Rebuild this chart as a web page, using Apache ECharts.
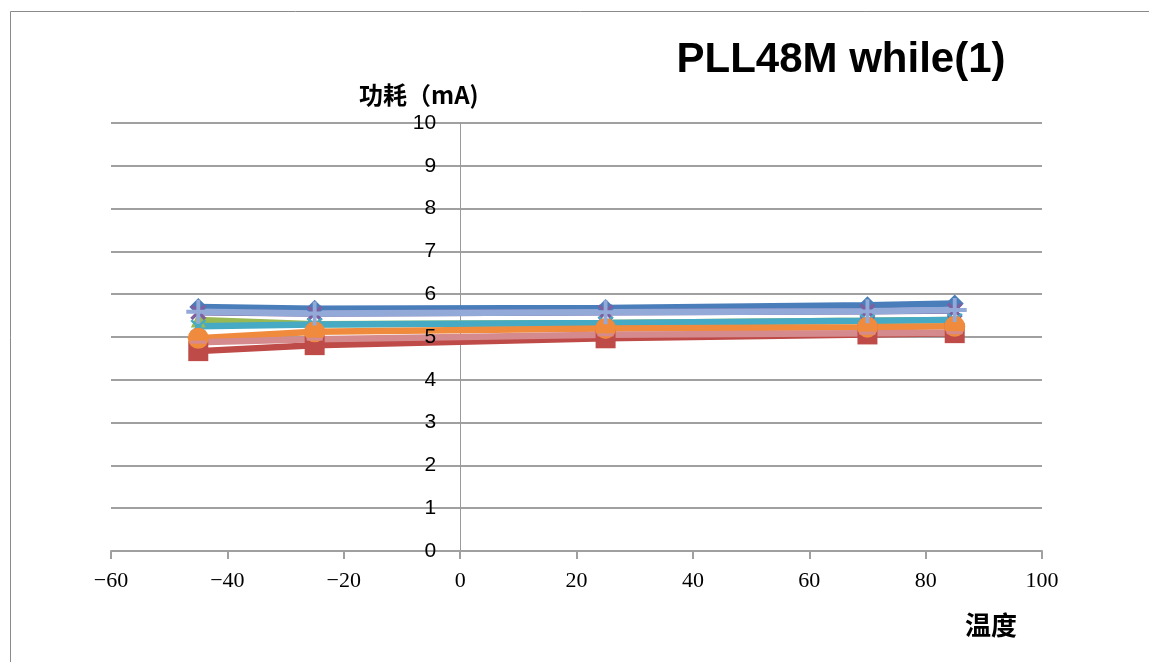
<!DOCTYPE html>
<html>
<head>
<meta charset="utf-8">
<script src="https://cdn.jsdelivr.net/npm/echarts@6/dist/echarts.min.js"></script>
<style>
html,body{margin:0;padding:0;background:#fff;}
#chart{width:1149px;height:662px;}
</style>
</head>
<body>
<div id="chart"></div>
<script>
// ---- data ----
const temps = [-45, -25, 25, 70, 85];
const seriesNames = ['S1', 'S2', 'S3', 'S4', 'S5', 'S6', 'S7', 'S8'];
const s1 = [5.70, 5.66, 5.68, 5.74, 5.78];
const s2 = [4.67, 4.81, 4.97, 5.06, 5.09];
const s3 = [5.40, 5.30, 5.33, 5.38, 5.40];
const s4 = [5.58, 5.55, 5.58, 5.60, 5.62];
const s5 = [5.25, 5.29, 5.33, 5.38, 5.40];
const s6 = [4.97, 5.12, 5.20, 5.23, 5.25];
const s7 = [5.59, 5.55, 5.58, 5.60, 5.63];
const s8 = [4.88, 4.95, 5.05, 5.09, 5.10];
const xTicks = [-60, -40, -20, 0, 20, 40, 60, 80, 100];
const yTicks = [0, 1, 2, 3, 4, 5, 6, 7, 8, 9, 10];
const titleText = 'PLL48M while(1)';
const yName = '功耗（mA)';
const xName = '温度';

const allData = [s1, s2, s3, s4, s5, s6, s7, s8];
const colors = ['#4A7EBB', '#BE4B48', '#98B954', '#7D60A0', '#46AAC4', '#F08A3C', '#93AAD8', '#D58B8E'];
const xPath = 'path://M1.5,0L5,3.5L8.5,0L10,1.5L6.5,5L10,8.5L8.5,10L5,6.5L1.5,10L0,8.5L3.5,5L0,1.5Z';
const plusPath = 'path://M4.2,0H5.8V4.2H10V5.8H5.8V10H4.2V5.8H0V4.2H4.2Z';
const starPath = 'path://M4.3,0H5.7V3.3L8.3,0.7L9.3,1.7L6.7,4.3V5.7L9.3,8.3L8.3,9.3L5.7,6.7V10H4.3V6.7L1.7,9.3L0.7,8.3L3.3,5.7V4.3L0.7,1.7L1.7,0.7L4.3,3.3Z';
const symbols = ['diamond', 'rect', 'triangle', xPath, starPath, 'circle', plusPath, 'rect'];
const sizes = [18, 20, 15, 16, 16, 21, 24, [16, 3]];

const GRID = {left: 111, right: 107, top: 123, bottom: 111};

const chart = echarts.init(document.getElementById('chart'), null, {renderer: 'canvas'});

const series = allData.map((d, i) => ({
  name: seriesNames[i],
  type: 'line',
  yAxisIndex: 0,
  data: temps.map((t, k) => [t, d[k]]),
  symbol: symbols[i],
  symbolSize: sizes[i],
  showAllSymbol: true,
  lineStyle: {color: colors[i], width: 6.5},
  itemStyle: {color: colors[i], borderWidth: 0},
  emphasis: {disabled: true},
  animation: false
}));

const yMin = yTicks[0], yMax = yTicks[yTicks.length - 1];

const option = {
  animation: false,
  backgroundColor: '#fff',
  grid: Object.assign({containLabel: false}, GRID),
  xAxis: {
    type: 'value', min: xTicks[0], max: xTicks[xTicks.length - 1], interval: 20,
    axisLine: {show: true, onZero: true, lineStyle: {color: '#a0a0a0', width: 2}},
    axisTick: {show: true, inside: false, length: 8, lineStyle: {color: '#a0a0a0', width: 2}},
    axisLabel: {
      margin: 19, color: '#000', fontSize: 22, fontFamily: 'Liberation Serif',
      formatter: v => (v < 0 ? '\u2212' + Math.abs(v) : String(v))
    },
    splitLine: {show: false}
  },
  yAxis: [
    {
      type: 'value', min: yMin, max: yMax, interval: 1, position: 'left',
      axisLine: {show: true, onZero: false, lineStyle: {color: '#9a9a9a', width: 1}},
      axisTick: {show: false},
      axisLabel: {show: false},
      splitLine: {show: true, lineStyle: {color: '#a0a0a0', width: 2}}
    },
    {
      type: 'value', min: yMin, max: yMax, interval: 1, position: 'left', z: 20,
      axisLine: {show: false, onZero: false},
      axisTick: {show: false},
      axisLabel: {margin: 24, color: '#000', fontSize: 21, fontFamily: 'Liberation Sans'},
      splitLine: {show: false}
    }
  ],
  graphic: [
    {type: 'rect', shape: {x: 10.5, y: 11.5, width: 1200, height: 700}, style: {fill: 'none', stroke: '#8a8a8a', lineWidth: 1}, z: -1, silent: true},
    {type: 'text', x: 841, y: 60, style: {text: titleText, fontSize: 42, fontWeight: 'bold', fontFamily: 'Liberation Sans', fill: '#000', textAlign: 'center', textVerticalAlign: 'middle'}},
    {type: 'text', x: 359, y: 95, style: {text: yName, fontSize: 24, fontWeight: 'bold', fontFamily: 'Noto Sans CJK SC', fill: '#000', textAlign: 'left', textVerticalAlign: 'middle'}},
    {type: 'text', x: 965, y: 625, style: {text: xName, fontSize: 26, fontWeight: 'bold', fontFamily: 'Noto Sans CJK SC', fill: '#000', textAlign: 'left', textVerticalAlign: 'middle'}}
  ],
  series: series
};
chart.setOption(option);

// place the value axis where x = 0, as in the reference
const x0 = chart.convertToPixel({xAxisIndex: 0}, 0);
const off = -(x0 - GRID.left);
chart.setOption({yAxis: [{offset: off}, {offset: off}]});
</script>
</body>
</html>
